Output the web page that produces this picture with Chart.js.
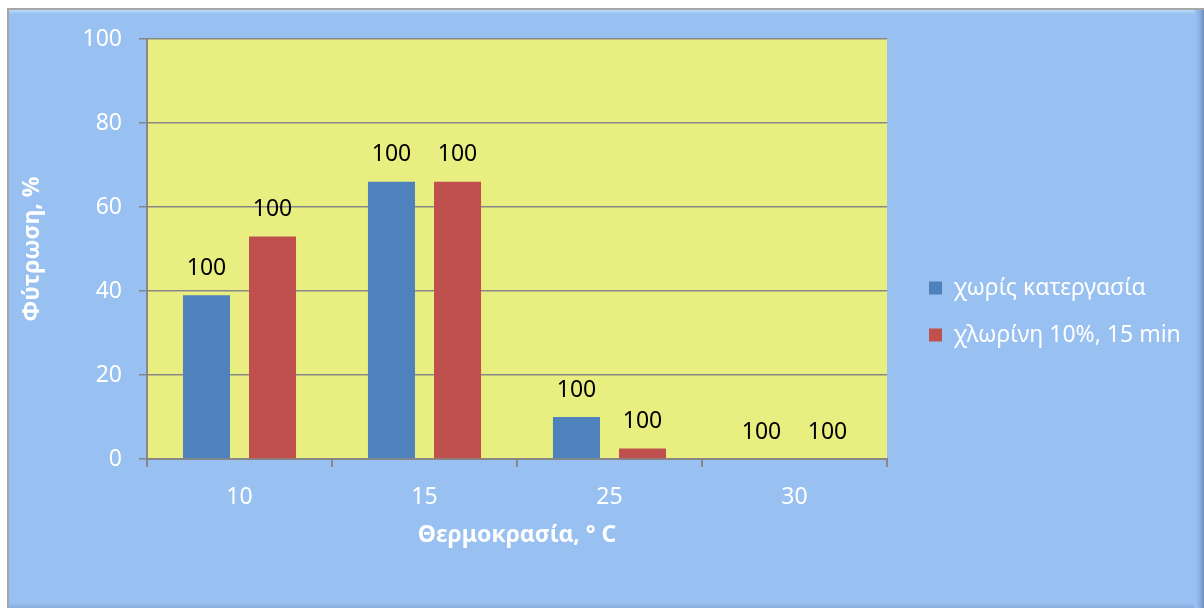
<!DOCTYPE html>
<html>
<head>
<meta charset="utf-8">
<script src="https://cdn.jsdelivr.net/npm/chart.js@4"></script>
<style>
  html, body { margin: 0; padding: 0; background: #fff; }
  #wrap { width: 1204px; height: 608px; }
</style>
</head>
<body>
<div id="wrap"><canvas id="germChart" width="1204" height="608"></canvas></div>
<script>
const categories = ["10", "15", "25", "30"];
const untreated = [39, 66, 10, 0];
const chlorine = [53, 66, 2.5, 0];
const untreatedLabels = ["100", "100", "100", "100"];
const chlorineLabels = ["100", "100", "100", "100"];
const yTicks = [0, 20, 40, 60, 80, 100];

const FONT = "'Noto Sans', 'DejaVu Sans', sans-serif";
const gridGray = "#878787";

// frame + yellow plot area
const backdrop = {
  id: "backdrop",
  afterLayout(chart) {
    // let the legend text run to the right edge instead of being clipped
    if (chart.legend) chart.legend.right = chart.width;
  },
  beforeDraw(chart) {
    const { ctx, chartArea: a } = chart;
    const W = chart.width, H = chart.height;
    ctx.save();
    ctx.fillStyle = "#ffffff";
    ctx.fillRect(0, 0, W, H);
    ctx.fillStyle = "#98c0f0";
    ctx.fillRect(7, 8, W - 7, H - 8);
    let g = ctx.createLinearGradient(0, 9, 0, 16);
    g.addColorStop(0, "#c9ecff");
    g.addColorStop(1, "rgba(152,192,240,0)");
    ctx.fillStyle = g;
    ctx.fillRect(9, 9, W - 18, 7);
    g = ctx.createLinearGradient(W - 10, 0, W, 0);
    g.addColorStop(0, "rgba(152,192,240,0)");
    g.addColorStop(1, "#6a8cbc");
    ctx.fillStyle = g;
    ctx.fillRect(W - 10, 10, 10, H - 10);
    g = ctx.createLinearGradient(0, H - 7, 0, H);
    g.addColorStop(0, "rgba(152,192,240,0)");
    g.addColorStop(1, "#86a9d8");
    ctx.fillStyle = g;
    ctx.fillRect(9, H - 7, W - 19, 7);
    ctx.strokeStyle = "#a6a6a6";
    ctx.lineWidth = 2;
    ctx.beginPath();
    ctx.moveTo(8, H);
    ctx.lineTo(8, 9);
    ctx.lineTo(W, 9);
    ctx.stroke();
    ctx.fillStyle = "#e8ee80";
    ctx.fillRect(a.left, a.top, a.right - a.left, a.bottom - a.top);
    ctx.restore();
  }
};

// value labels above bars
const barText = {
  id: "barText",
  afterDatasetsDraw(chart) {
    const { ctx } = chart;
    const sets = [untreatedLabels, chlorineLabels];
    ctx.save();
    ctx.fillStyle = "#000000";
    ctx.font = "23px " + FONT;
    ctx.textAlign = "center";
    ctx.textBaseline = "middle";
    chart.data.datasets.forEach((ds, i) => {
      chart.getDatasetMeta(i).data.forEach((bar, j) => {
        ctx.fillText(sets[i][j], bar.x, bar.y - 27);
      });
    });
    ctx.restore();
  }
};

function draw() {
  new Chart(document.getElementById("germChart"), {
    type: "bar",
    data: {
      labels: categories,
      datasets: [
        {
          label: "χωρίς κατεργασία",
          data: untreated,
          backgroundColor: "#4f81bd",
          categoryPercentage: 0.714,
          barPercentage: 0.712
        },
        {
          label: "χλωρίνη 10%, 15 min",
          data: chlorine,
          backgroundColor: "#c0504d",
          categoryPercentage: 0.714,
          barPercentage: 0.712
        }
      ]
    },
    options: {
      responsive: false,
      animation: false,
      layout: { padding: { left: 10, top: 39, right: 120, bottom: 24 } },
      plugins: {
        tooltip: { enabled: false },
        legend: {
          position: "right",
          labels: {
            color: "#ffffff",
            font: { family: FONT, size: 23 },
            boxWidth: 13,
            boxHeight: 13,
            padding: 24
          }
        }
      },
      scales: {
        x: {
          afterFit(scale) {
            scale.height = 125;
          },
          grid: {
            display: true,
            drawOnChartArea: false,
            color: gridGray,
            lineWidth: 2,
            tickLength: 8
          },
          border: { color: gridGray, width: 2 },
          ticks: { color: "#ffffff", font: { family: FONT, size: 23 }, padding: 17 },
          title: {
            display: true,
            text: "Θερμοκρασία, ° C",
            color: "#ffffff",
            font: { family: FONT, size: 23, weight: "bold" },
            padding: { top: 0, bottom: 35 }
          }
        },
        y: {
          min: 0,
          max: 100,
          afterBuildTicks(scale) {
            scale.ticks = yTicks.map(v => ({ value: v }));
          },
          afterFit(scale) {
            scale.width = 137;
          },
          grid: { color: gridGray, lineWidth: 1.5, tickLength: 8 },
          border: { color: gridGray, width: 2 },
          ticks: { color: "#ffffff", font: { family: FONT, size: 23 }, padding: 17 },
          title: {
            display: true,
            text: "Φύτρωση, %",
            color: "#ffffff",
            font: { family: FONT, size: 23, weight: "bold" },
            padding: { top: 9, bottom: 0 }
          }
        },
        gap: {
          position: "right",
          display: true,
          afterFit(scale) {
            scale.width = 18;
          },
          grid: { display: false },
          border: { display: false },
          ticks: { display: false }
        }
      }
    },
    plugins: [backdrop, barText]
  });
}

Promise.all([
  document.fonts.load("23px 'Noto Sans'", "χωρίς 100"),
  document.fonts.load("bold 23px 'Noto Sans'", "Θερμοκρασία")
]).then(draw, draw);
</script>
</body>
</html>
